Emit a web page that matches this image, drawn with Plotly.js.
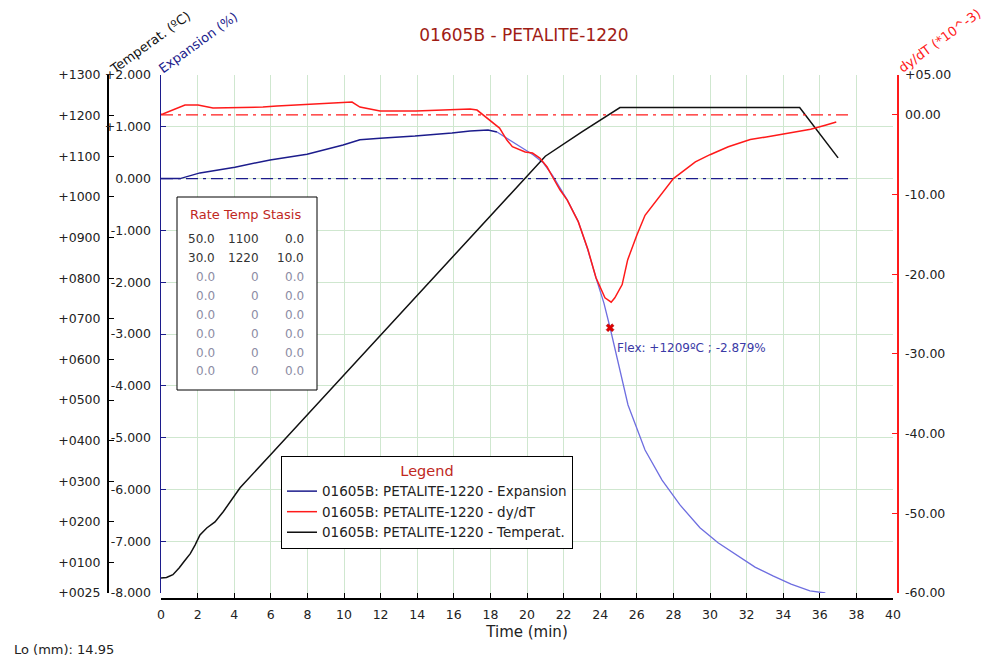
<!DOCTYPE html>
<html>
<head>
<meta charset="utf-8">
<script src="https://cdn.plot.ly/plotly-3.0.1.min.js"></script>
<style>html,body{margin:0;padding:0;background:#fff;}#chart{width:992px;height:663px;}</style>
</head>
<body>
<div id="chart"></div>
<script>
// ---------------- data ----------------
const chartTitle = "01605B - PETALITE-1220";
const seriesNames = ["01605B: PETALITE-1220 - Expansion", "01605B: PETALITE-1220 - dy/dT", "01605B: PETALITE-1220 - Temperat."];

// Temperature (°C) vs time (min)
const tempTime = [0, 0.3, 0.65, 1.0, 1.25, 1.6, 1.86, 2.13, 2.5, 2.95, 3.4, 3.77, 4.32, 6, 8, 10, 12, 14, 16, 18, 20, 21.0, 23.0, 25.08, 34.9, 37.0];
const tempVal  = [62, 63, 70, 87, 102, 122, 143, 168, 185, 200, 225, 249, 284, 366, 464, 562, 660, 757, 855, 953, 1051, 1100, 1160, 1220, 1220, 1096];

// Expansion (%) vs time - before the peak
const expTimeA = [0, 1.04, 2.13, 4.04, 5.96, 7.98, 9.95, 10.87, 11.97, 13.88, 15.9, 16.89, 17.87, 18.36];
const expValA  = [0.0, 0.0, 0.11, 0.22, 0.36, 0.47, 0.65, 0.75, 0.78, 0.82, 0.88, 0.92, 0.94, 0.90];
// Expansion (%) vs time - after the peak
const expTimeB = [18.36, 18.8, 19.3, 19.9, 20.33, 20.9, 21.4, 21.8, 22.2, 22.8, 23.3, 23.8, 24.2, 24.54, 25.08, 25.52, 26.45, 27.38, 28.36, 29.45, 30.44, 31.48, 32.46, 33.44, 34.43, 35.46, 36.3];
const expValB  = [0.90, 0.80, 0.70, 0.55, 0.46, 0.30, 0.06, -0.18, -0.41, -0.83, -1.35, -1.95, -2.4, -2.879, -3.69, -4.37, -5.24, -5.82, -6.3, -6.74, -7.03, -7.28, -7.5, -7.67, -7.83, -7.96, -8.0];

// dy/dT (*10^-3) vs time
const dydtTime = [0, 0.1, 1.31, 2.02, 2.84, 4.0, 5.57, 6.34, 8.3, 9.95, 10.44, 10.87, 11.97, 13.93, 15.9, 16.89, 17.27, 17.6, 18.5, 18.9, 19.2, 19.9, 20.3, 20.7, 21.1, 21.4, 21.8, 22.2, 22.8, 23.33, 23.77, 24.26, 24.6, 24.8, 25.2, 25.5, 26.0, 26.45, 27.16, 28.0, 29.2, 30.0, 31.0, 32.2, 33.0, 34.0, 34.9, 35.5, 36.3, 36.9];
const dydtVal  = [0.06, 0.1, 1.23, 1.23, 0.85, 0.9, 0.98, 1.1, 1.35, 1.48, 1.6, 0.98, 0.48, 0.48, 0.6, 0.73, 0.6, 0, -1.66, -3.16, -4.0, -4.67, -4.79, -5.42, -6.55, -7.8, -9.4, -10.7, -13.4, -16.9, -20.45, -22.95, -23.5, -22.95, -21.3, -18.2, -15.1, -12.6, -10.45, -8.0, -5.9, -5.0, -4.0, -3.1, -2.8, -2.4, -2.1, -1.8, -1.3, -0.9];

// reference (zero) lines
const baseTime = [0, 37.6];
const baseVal  = [0, 0];

// Flex point
const flexTime = [24.54];
const flexExp  = [-2.879];
const flexLabel = "Flex: +1209ºC ; -2.879%";

// Rate / Temp / Stasis table
const tableRate   = [50.0, 30.0, 0.0, 0.0, 0.0, 0.0, 0.0, 0.0];
const tableTemp   = [1100, 1220, 0, 0, 0, 0, 0, 0];
const tableStasis = [0.0, 10.0, 0.0, 0.0, 0.0, 0.0, 0.0, 0.0];

// Axis ticks
const xTicks = [0,2,4,6,8,10,12,14,16,18,20,22,24,26,28,30,32,34,36,38,40];
const expTicks = [2,1,0,-1,-2,-3,-4,-5,-6,-7,-8];
const expTickText = ["+2.000","+1.000","0.000","-1.000","-2.000","-3.000","-4.000","-5.000","-6.000","-7.000","-8.000"];
const tempTicks = [1300,1200,1100,1000,900,800,700,600,500,400,300,200,100,25];
const tempTickText = ["+1300","+1200","+1100","+1000","+0900","+0800","+0700","+0600","+0500","+0400","+0300","+0200","+0100","+0025"];
const dTicks = [5,0,-10,-20,-30,-40,-50,-60];
const dTickText = ["+05.00","00.00","-10.00","-20.00","-30.00","-40.00","-50.00","-60.00"];
const loText = "Lo (mm): 14.95";

// ---------------- layout helpers ----------------
const W = 992, H = 663;
const ML = 107, MR = 95, MT = 75, MB = 65;
const PW = W - ML - MR, PH = H - MT - MB;
const px = x => (x - ML) / PW;          // page px -> paper x
const py = y => 1 - (y - MT) / PH;      // page px -> paper y

const FONT = "DejaVu Sans";
const NAVY = "#1c1c8c";
const LBLUE = "#6e6ee0";
const RED = "#ff1a1a";
const GRID = "#cfe7cf";

const traces = [
  {x: expTimeA, y: expValA, name: seriesNames[0], type: "scatter", mode: "lines",
   line: {color: NAVY, width: 1.5}, xaxis: "x", yaxis: "y"},
  {x: dydtTime, y: dydtVal, name: seriesNames[1], type: "scatter", mode: "lines",
   line: {color: RED, width: 1.5}, xaxis: "x", yaxis: "y3"},
  {x: tempTime, y: tempVal, name: seriesNames[2], type: "scatter", mode: "lines",
   line: {color: "#111111", width: 1.5}, xaxis: "x", yaxis: "y2"},
  {x: expTimeB, y: expValB, showlegend: false, type: "scatter", mode: "lines",
   line: {color: LBLUE, width: 1.3}, xaxis: "x", yaxis: "y"},
  {x: baseTime, y: baseVal, showlegend: false, type: "scatter", mode: "lines",
   line: {color: NAVY, width: 1.3, dash: "12px,5px,3px,5px"}, xaxis: "x", yaxis: "y"},
  {x: baseTime, y: baseVal, showlegend: false, type: "scatter", mode: "lines",
   line: {color: RED, width: 1.3, dash: "12px,5px,3px,5px"}, xaxis: "x", yaxis: "y3"},
  {x: flexTime, y: flexExp, showlegend: false, type: "scatter", mode: "markers",
   marker: {symbol: "x", size: 7, color: "#e00000", line: {color: "#a00000", width: 0.5}}, xaxis: "x", yaxis: "y"}
];

const annotations = [];
// axis titles (rotated)
annotations.push({xref: "paper", yref: "paper", x: px(150), y: py(42), text: "Temperat. (ºC)", showarrow: false,
  textangle: -36, xanchor: "center", yanchor: "middle", font: {family: FONT, size: 13, color: "#111"}});
annotations.push({xref: "paper", yref: "paper", x: px(198), y: py(42), text: "Expansion (%)", showarrow: false,
  textangle: -36, xanchor: "center", yanchor: "middle", font: {family: FONT, size: 13, color: NAVY}});
annotations.push({xref: "paper", yref: "paper", x: px(940), y: py(41), text: "dy/dT (*10^-3)", showarrow: false,
  textangle: -36, xanchor: "center", yanchor: "middle", font: {family: FONT, size: 13, color: RED}});
// Lo
annotations.push({xref: "paper", yref: "paper", x: px(12), y: py(649), text: loText, showarrow: false,
  xanchor: "left", yanchor: "middle", font: {family: FONT, size: 13, color: "#222"}});
// flex label
annotations.push({xref: "x", yref: "y", x: flexTime[0], y: flexExp[0], text: flexLabel, showarrow: false,
  xanchor: "left", yanchor: "middle", xshift: 5, yshift: -20, font: {family: FONT, size: 12, color: "#3a3aa6"}});
// table title
annotations.push({xref: "paper", yref: "paper", x: px(245), y: py(214), text: "Rate Temp Stasis", showarrow: false,
  xanchor: "center", yanchor: "middle", font: {family: FONT, size: 13, color: "#c0281e"}});
const rowY = [239, 258, 277, 296, 315, 334, 353, 371];
for (let i = 0; i < tableRate.length; i++) {
  const active = (tableRate[i] !== 0 || tableTemp[i] !== 0);
  const col = active ? "#333333" : "#8c8ca4";
  const f = {family: FONT, size: 12, color: col};
  annotations.push({xref: "paper", yref: "paper", x: px(217), y: py(rowY[i]), text: tableRate[i].toFixed(1), showarrow: false, xanchor: "right", yanchor: "middle", font: f});
  annotations.push({xref: "paper", yref: "paper", x: px(261), y: py(rowY[i]), text: String(tableTemp[i]), showarrow: false, xanchor: "right", yanchor: "middle", font: f});
  annotations.push({xref: "paper", yref: "paper", x: px(306), y: py(rowY[i]), text: tableStasis[i].toFixed(1), showarrow: false, xanchor: "right", yanchor: "middle", font: f});
}

const tickFont = {family: FONT, size: 12.5, color: "#222"};
const ydom = [5 / PH, 1];

const layout = {
  width: W, height: H,
  margin: {l: ML, r: MR, t: MT, b: MB, pad: 0},
  paper_bgcolor: "#ffffff", plot_bgcolor: "#ffffff",
  title: {text: chartTitle, x: 524 / W, xanchor: "center", xref: "container", y: 1 - 35 / H, yanchor: "middle", yref: "container",
          font: {family: FONT, size: 17, color: "#a01c14"}},
  showlegend: true,
  legend: {x: px(281), y: py(456), xanchor: "left", yanchor: "top", bgcolor: "#ffffff", bordercolor: "#000", borderwidth: 1,
           font: {family: FONT, size: 13.5, color: "#222"}, itemwidth: 30, traceorder: "normal",
           title: {text: "Legend", side: "top center", font: {family: FONT, size: 14.5, color: "#c0281e"}}},
  xaxis: {domain: [px(161), px(893)], range: [0, 40], tickvals: xTicks, ticktext: xTicks.map(String),
          showgrid: true, gridcolor: GRID, gridwidth: 1, zeroline: false,
          showline: true, linecolor: "#000", linewidth: 1.5, ticks: "inside", ticklen: 5, tickcolor: "#000",
          anchor: "free", position: 0, tickfont: tickFont, ticklabelstandoff: 4,
          title: {text: "Time (min)", font: {family: FONT, size: 15, color: "#222"}, standoff: 6}},
  yaxis: {domain: ydom, range: [-8, 2], tickvals: expTicks, ticktext: expTickText,
          showgrid: true, gridcolor: GRID, zeroline: false, anchor: "x",
          showline: true, linecolor: NAVY, linewidth: 1.5, ticks: "inside", ticklen: 5, tickcolor: NAVY,
          tickfont: tickFont, ticklabelstandoff: 6},
  yaxis2: {domain: ydom, range: [25, 1300], tickvals: tempTicks, ticktext: tempTickText, overlaying: "y",
           anchor: "free", position: 0, side: "left", showgrid: false, zeroline: false,
           showline: true, linecolor: "#000", linewidth: 1.5, ticks: "inside", ticklen: 5, tickcolor: "#000",
           tickfont: tickFont, ticklabelstandoff: 4},
  yaxis3: {domain: ydom, range: [-60, 5], tickvals: dTicks, ticktext: dTickText, overlaying: "y",
           anchor: "free", position: 1, side: "right", showgrid: false, zeroline: false,
           showline: true, linecolor: RED, linewidth: 1.5, ticks: "inside", ticklen: 5, tickcolor: RED,
           tickfont: tickFont, ticklabelstandoff: 4},
  shapes: [
    {type: "rect", xref: "paper", yref: "paper", x0: px(177), x1: px(317), y0: py(390), y1: py(197),
     fillcolor: "#ffffff", line: {color: "#000", width: 1}, layer: "above"}
  ],
  annotations: annotations
};

Plotly.newPlot("chart", traces, layout, {displayModeBar: false, staticPlot: true});
</script>
</body>
</html>
